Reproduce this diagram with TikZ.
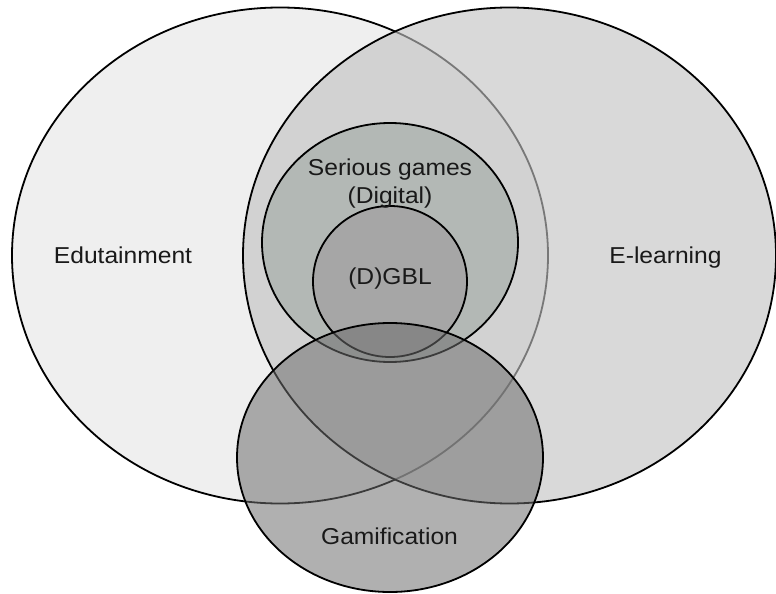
\documentclass[tikz,border=0pt]{standalone}
\usepackage{fontspec}
\setmainfont{Liberation Sans}
\definecolor{edufill}{HTML}{EFEFEF}
\definecolor{elearnfill}{HTML}{C2C2C2}
\definecolor{seriousfill}{HTML}{B3B8B5}
\definecolor{dgblfill}{HTML}{A6A6A6}
\definecolor{gamifill}{HTML}{6E6E6E}
\tikzset{
  setline/.style={draw=black, line width=1.8pt},
  setlabel/.style={font=\fontsize{23}{28}\selectfont, text=black!90, align=center, xscale=1.07, inner sep=0pt}
}
\begin{document}
\begin{tikzpicture}[x=1pt, y=-1pt]
  \useasboundingbox (0,0) rectangle (776,594);
  % outer sets
  \draw[setline, fill=edufill] (280,255.5) ellipse [x radius=268, y radius=248];
  \draw[setline, fill=elearnfill, fill opacity=0.625] (509.5,255.5) ellipse [x radius=266.5, y radius=248];
  % nested game sets
  \draw[setline, fill=seriousfill] (390,242.5) ellipse [x radius=128, y radius=119.5];
  \draw[setline, fill=dgblfill] (390,281.5) ellipse [x radius=77, y radius=75.5];
  % gamification overlaps everything
  \draw[setline, fill=gamifill, fill opacity=0.545] (390,457.5) ellipse [x radius=153, y radius=134.5];
  % labels
  \node[setlabel, anchor=base] (edu) at (123,263) {Edutainment};
  \node[setlabel, anchor=base] (elearn) at (665.5,263) {E-learning};
  \node[setlabel, anchor=base] (serious) at (390,175) {Serious games};
  \node[setlabel, anchor=base] (digital) at (390,203) {(Digital)};
  \node[setlabel, anchor=base] (dgbl) at (390,284) {(D)GBL};
  \node[setlabel, anchor=base] (gami) at (389.5,544) {Gamification};
\end{tikzpicture}
\end{document}
